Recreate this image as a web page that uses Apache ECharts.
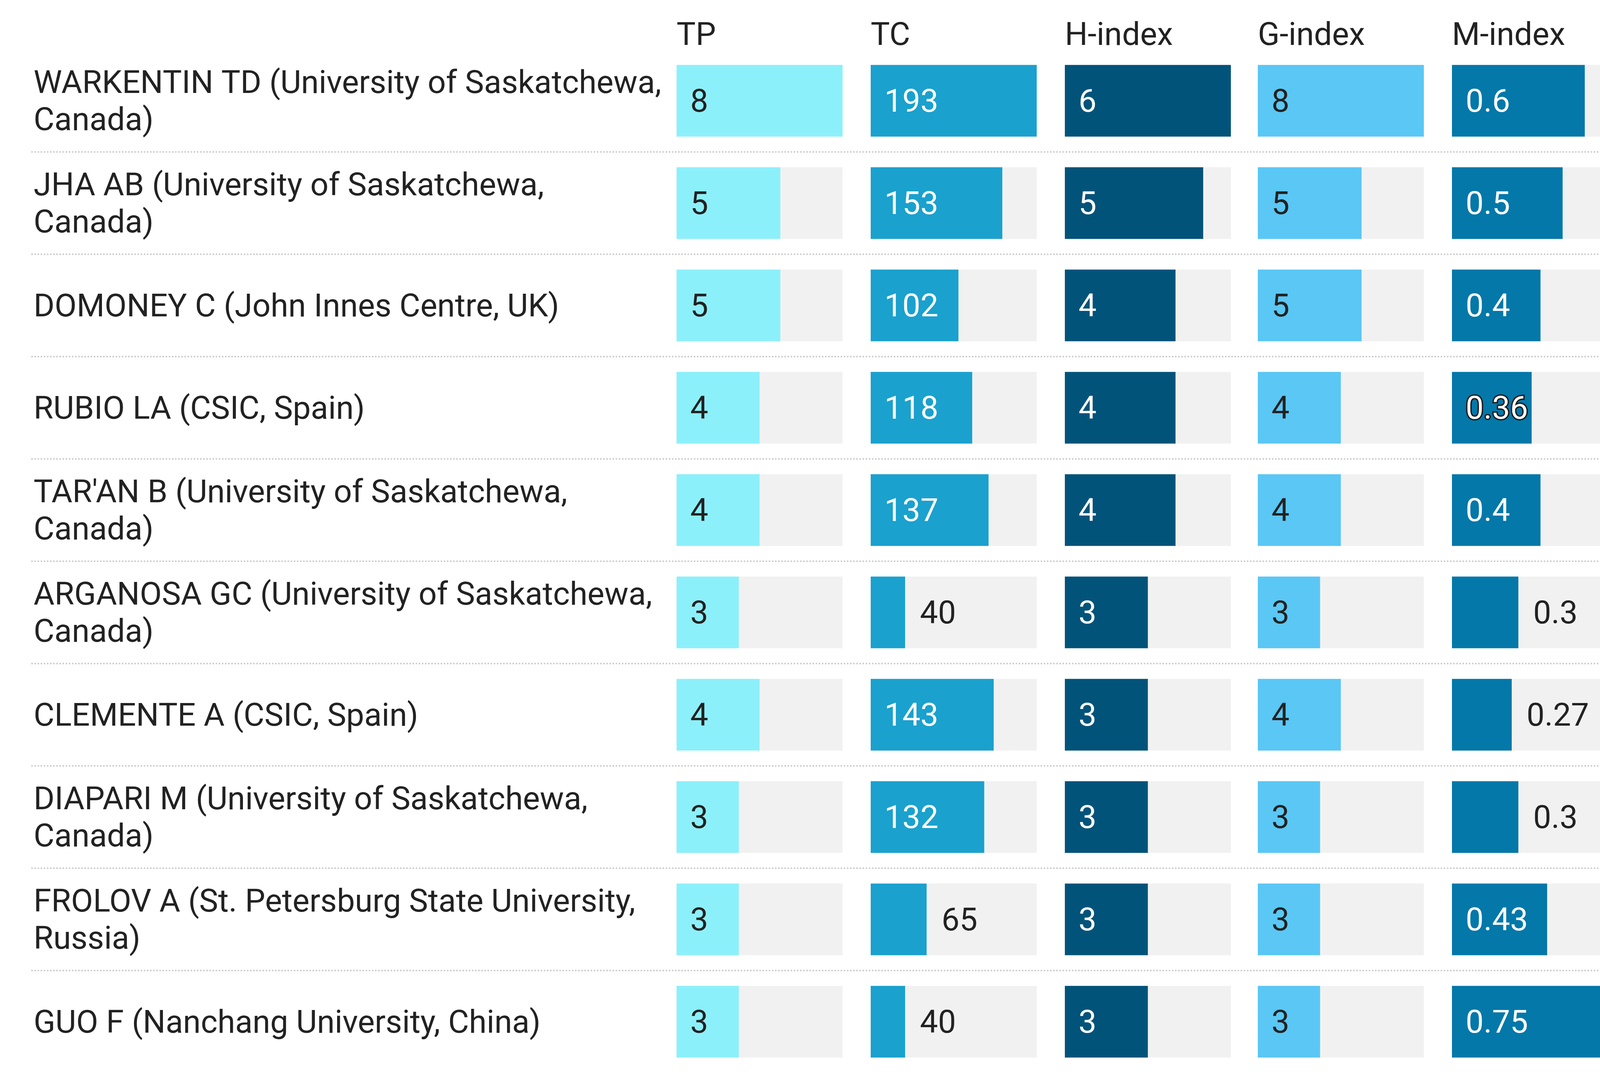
<!DOCTYPE html>
<html>
<head>
<meta charset="utf-8">
<script src="https://cdn.jsdelivr.net/npm/echarts@6/dist/echarts.min.js"></script>
<style>
  html, body { margin: 0; padding: 0; background: #ffffff; }
  #chart { width: 4211px; height: 2755px; }
</style>
</head>
<body>
<div id="chart"></div>
<script>
var authors = [
  'WARKENTIN TD (University of Saskatchewa,\nCanada)',
  'JHA AB (University of Saskatchewa,\nCanada)',
  'DOMONEY C (John Innes Centre, UK)',
  'RUBIO LA (CSIC, Spain)',
  "TAR'AN B (University of Saskatchewa,\nCanada)",
  'ARGANOSA GC (University of Saskatchewa,\nCanada)',
  'CLEMENTE A (CSIC, Spain)',
  'DIAPARI M (University of Saskatchewa,\nCanada)',
  'FROLOV A (St. Petersburg State University,\nRussia)',
  'GUO F (Nanchang University, China)'
];
var metrics = ['TP', 'TC', 'H-index', 'G-index', 'M-index'];
var tpValues = [8, 5, 5, 4, 4, 3, 4, 3, 3, 3];
var tcValues = [193, 153, 102, 118, 137, 40, 143, 132, 65, 40];
var hValues = [6, 5, 4, 4, 4, 3, 3, 3, 3, 3];
var gValues = [8, 5, 5, 4, 4, 3, 4, 3, 3, 3];
var mValues = [0.6, 0.5, 0.4, 0.36, 0.4, 0.3, 0.27, 0.3, 0.43, 0.75];

var columns = [tpValues, tcValues, hValues, gValues, mValues];
var colors = ['#8cf0fa', '#1aa1ce', '#02537a', '#5ac7f5', '#0378a9'];
var labelColors = ['#222222', '#ffffff', '#ffffff', '#222222', '#ffffff'];
var outsideBelow = [0, 0.45, 0, 0, 0.45]; // white labels move out of short bars
var gridLefts = [1732, 2229, 2726, 3220, 3717];
var trackWidth = 425;
var gridTop = 127;
var gridHeight = 2620;
var fontSize = 82;
var textColor = '#222222';
var font = 'Roboto';

var chart = echarts.init(document.getElementById('chart'));

var grids = [], xAxes = [], yAxes = [], series = [], titles = [];

columns.forEach(function (vals, i) {
  var max = Math.max.apply(null, vals);
  grids.push({ left: gridLefts[i], top: gridTop, width: trackWidth, height: gridHeight });
  xAxes.push({
    type: 'value', gridIndex: i, min: 0, max: max, show: false
  });
  yAxes.push({
    type: 'category', gridIndex: i, data: authors, inverse: true,
    axisLine: { show: false }, axisTick: { show: false }, splitLine: { show: false },
    axisLabel: i === 0 ? {
      show: true, align: 'left', margin: gridLefts[0] - 86,
      formatter: function (name) {
        return name.split('\n').map(function (line) { return '{n|' + line + '}'; }).join('\n');
      },
      rich: {
        n: {
          fontSize: fontSize, lineHeight: 95, color: textColor, fontFamily: font,
          padding: [14, 0, 0, 0]
        }
      }
    } : { show: false }
  });
  titles.push({
    text: metrics[i], left: gridLefts[i], top: 53, padding: 0,
    textStyle: { fontSize: fontSize, fontWeight: 'normal', color: textColor, fontFamily: font }
  });
  series.push({
    type: 'bar', xAxisIndex: i, yAxisIndex: i,
    barCategoryGap: '30%',
    showBackground: true,
    backgroundStyle: { color: '#f1f1f1' },
    itemStyle: { color: colors[i] },
    silent: true,
    data: vals.map(function (v, r) {
      var outside = v / max < outsideBelow[i];
      var lbl = {
        show: true,
        position: outside ? 'right' : 'insideLeft',
        distance: outside ? 38 : 35,
        offset: [0, 7],
        fontSize: fontSize, fontFamily: font,
        color: outside ? textColor : labelColors[i]
      };
      // the 0.36 label carries a dark outline in the source image
      if (i === 4 && r === 3) {
        lbl.textBorderColor = '#1b1b1b';
        lbl.textBorderWidth = 7;
      }
      return { value: v, label: lbl };
    })
  });
});

// full width grid only for the dotted separators between rows
grids.push({ left: 80, top: gridTop, width: 4090, height: gridHeight });
xAxes.push({ type: 'value', gridIndex: 5, show: false });
yAxes.push({
  type: 'category', gridIndex: 5, data: authors, inverse: true,
  axisLine: { show: false }, axisTick: { show: false }, axisLabel: { show: false },
  splitLine: {
    show: true, showMinLine: false, showMaxLine: false,
    lineStyle: { color: '#cfcfcf', width: 4, type: 'dotted' }
  }
});

chart.setOption({
  backgroundColor: '#ffffff',
  animation: false,
  title: titles,
  grid: grids,
  xAxis: xAxes,
  yAxis: yAxes,
  series: series
});
</script>
</body>
</html>
